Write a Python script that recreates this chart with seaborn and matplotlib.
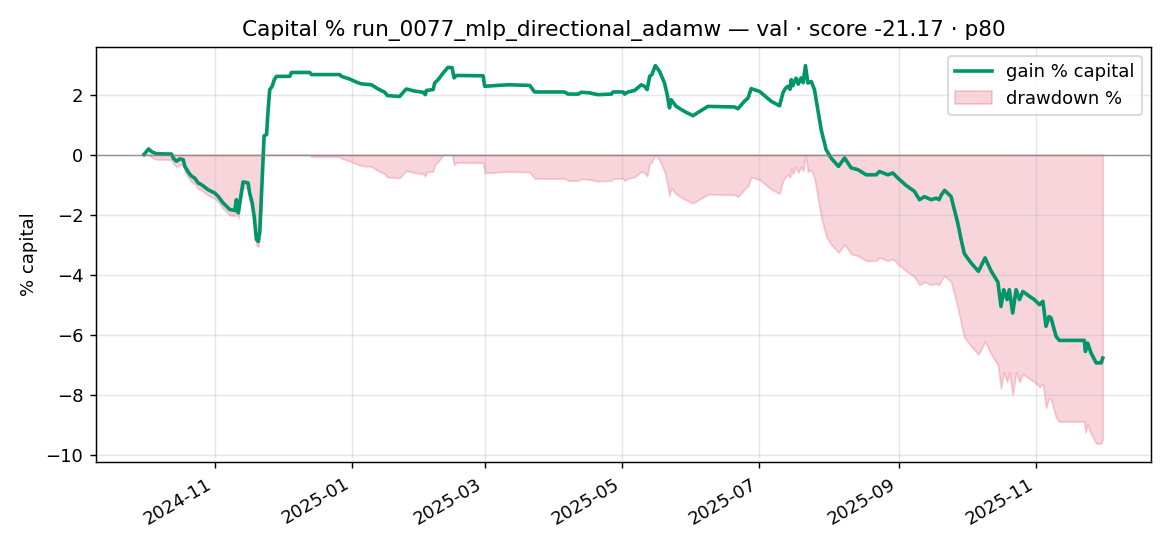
import numpy as np
import pandas as pd
import matplotlib
matplotlib.use("Agg")
import matplotlib.pyplot as plt
import matplotlib.dates as mdates
import seaborn as sns

title = "Capital % run_0077_mlp_directional_adamw — val · score -21.17 · p80"

timestamps = [
    "2024-09-30 12:00", "2024-10-02 14:00", "2024-10-03 22:00", "2024-10-06 02:00", "2024-10-12 19:00",
    "2024-10-13 12:00", "2024-10-15 00:00", "2024-10-16 12:00", "2024-10-18 00:00", "2024-10-18 17:00",
    "2024-10-20 12:00", "2024-10-21 17:00", "2024-10-23 02:00", "2024-10-24 14:00", "2024-10-26 02:00",
    "2024-10-29 02:00", "2024-11-01 00:00", "2024-11-02 12:00", "2024-11-04 17:00", "2024-11-07 17:00",
    "2024-11-09 22:00", "2024-11-10 14:00", "2024-11-11 10:00", "2024-11-12 02:00", "2024-11-13 14:00",
    "2024-11-15 19:00", "2024-11-16 12:00", "2024-11-17 14:00", "2024-11-18 12:00", "2024-11-19 12:00",
    "2024-11-20 07:00", "2024-11-21 00:00", "2024-11-21 17:00", "2024-11-22 12:00", "2024-11-22 22:00",
    "2024-11-24 00:00", "2024-11-24 17:00", "2024-11-25 10:00", "2024-11-26 12:00", "2024-11-27 10:00",
    "2024-11-28 10:00", "2024-12-04 07:00", "2024-12-05 02:00", "2024-12-13 05:00", "2024-12-13 22:00",
    "2024-12-26 12:00", "2024-12-27 07:00", "2024-12-30 22:00", "2025-01-02 22:00", "2025-01-05 02:00",
    "2025-01-09 14:00", "2025-01-12 14:00", "2025-01-15 12:00", "2025-01-16 17:00", "2025-01-22 02:00",
    "2025-01-25 02:00", "2025-01-28 19:00", "2025-02-01 12:00", "2025-02-02 14:00", "2025-02-03 00:00",
    "2025-02-06 00:00", "2025-02-06 17:00", "2025-02-08 05:00", "2025-02-10 10:00", "2025-02-12 14:00",
    "2025-02-14 10:00", "2025-02-15 07:00", "2025-02-16 07:00", "2025-02-28 05:00", "2025-02-28 22:00",
    "2025-03-11 07:00", "2025-03-20 22:00", "2025-03-23 02:00", "2025-04-05 10:00", "2025-04-06 22:00",
    "2025-04-11 10:00", "2025-04-12 19:00", "2025-04-16 12:00", "2025-04-20 05:00", "2025-04-26 05:00",
    "2025-04-26 22:00", "2025-05-01 10:00", "2025-05-02 02:00", "2025-05-03 14:00", "2025-05-06 12:00",
    "2025-05-09 12:00", "2025-05-10 22:00", "2025-05-12 02:00", "2025-05-13 05:00", "2025-05-14 05:00",
    "2025-05-15 17:00", "2025-05-17 14:00", "2025-05-19 19:00", "2025-05-21 00:00", "2025-05-22 00:00",
    "2025-05-22 19:00", "2025-05-25 00:00", "2025-05-28 17:00", "2025-06-01 10:00", "2025-06-04 10:00",
    "2025-06-08 02:00", "2025-06-19 22:00", "2025-06-21 10:00", "2025-06-24 07:00", "2025-06-25 22:00",
    "2025-06-27 07:00", "2025-07-01 00:00", "2025-07-06 05:00", "2025-07-09 22:00", "2025-07-11 10:00",
    "2025-07-12 10:00", "2025-07-13 14:00", "2025-07-14 14:00", "2025-07-15 02:00", "2025-07-15 19:00",
    "2025-07-16 12:00", "2025-07-17 07:00", "2025-07-18 05:00", "2025-07-19 12:00", "2025-07-20 10:00",
    "2025-07-21 10:00", "2025-07-22 12:00", "2025-07-24 00:00", "2025-07-25 10:00", "2025-07-26 22:00",
    "2025-07-28 10:00", "2025-07-30 14:00", "2025-08-01 19:00", "2025-08-05 02:00", "2025-08-07 19:00",
    "2025-08-10 17:00", "2025-08-13 17:00", "2025-08-17 10:00", "2025-08-21 19:00", "2025-08-23 07:00",
    "2025-08-27 00:00", "2025-08-29 05:00", "2025-08-31 12:00", "2025-09-04 05:00", "2025-09-07 19:00",
    "2025-09-10 02:00", "2025-09-12 07:00", "2025-09-15 07:00", "2025-09-17 12:00", "2025-09-18 19:00",
    "2025-09-19 17:00", "2025-09-21 05:00", "2025-09-24 02:00", "2025-09-25 14:00", "2025-09-27 02:00",
    "2025-09-28 14:00", "2025-09-30 00:00", "2025-10-03 00:00", "2025-10-06 07:00", "2025-10-09 05:00",
    "2025-10-11 22:00", "2025-10-14 22:00", "2025-10-16 07:00", "2025-10-17 12:00", "2025-10-19 00:00",
    "2025-10-20 00:00", "2025-10-21 12:00", "2025-10-23 00:00", "2025-10-24 12:00", "2025-10-26 00:00",
    "2025-10-28 22:00", "2025-10-31 02:00", "2025-11-02 10:00", "2025-11-03 22:00", "2025-11-05 07:00",
    "2025-11-06 14:00", "2025-11-07 12:00", "2025-11-09 19:00", "2025-11-11 05:00", "2025-11-22 07:00",
    "2025-11-22 19:00", "2025-11-23 19:00", "2025-11-25 07:00", "2025-11-27 14:00", "2025-11-29 19:00",
    "2025-11-30 12:00",
]

gain_pct = [
    0.00, 0.19, 0.10, 0.03, 0.02,
    -0.11, -0.22, -0.14, -0.17, -0.39,
    -0.61, -0.72, -0.78, -0.94, -1.00,
    -1.17, -1.28, -1.39, -1.61, -1.83,
    -1.86, -1.50, -1.94, -1.61, -0.91,
    -0.94, -1.28, -1.60, -2.06, -2.83,
    -2.89, -2.56, -1.39, -0.06, 0.63,
    0.67, 1.50, 2.17, 2.28, 2.50,
    2.61, 2.61, 2.74, 2.74, 2.67,
    2.67, 2.61, 2.52, 2.42, 2.36,
    2.33, 2.19, 2.08, 1.97, 1.94,
    2.19, 2.12, 2.08, 2.00, 2.14,
    2.17, 2.39, 2.50, 2.72, 2.91,
    2.90, 2.56, 2.64, 2.63, 2.28,
    2.33, 2.31, 2.09, 2.09, 2.02,
    2.02, 2.08, 2.06, 2.00, 2.02,
    2.09, 2.09, 2.02, 2.09, 2.14,
    2.33, 2.28, 2.17, 2.61, 2.67,
    2.97, 2.78, 2.39, 2.00, 1.56,
    1.83, 1.61, 1.44, 1.30, 1.44,
    1.61, 1.59, 1.53, 1.78, 1.89,
    2.20, 2.11, 1.78, 1.63, 2.06,
    2.20, 2.28, 2.18, 2.50, 2.30,
    2.44, 2.55, 2.35, 2.56, 2.40,
    2.97, 2.39, 2.44, 2.17, 1.50,
    0.83, 0.17, -0.11, -0.39, -0.11,
    -0.44, -0.50, -0.67, -0.67, -0.56,
    -0.67, -0.61, -0.78, -1.03, -1.22,
    -1.50, -1.40, -1.50, -1.45, -1.50,
    -1.35, -1.19, -1.39, -1.83, -2.28,
    -2.83, -3.30, -3.61, -3.89, -3.44,
    -3.88, -4.25, -5.06, -4.50, -4.83,
    -4.50, -5.28, -4.50, -4.83, -4.56,
    -4.72, -4.83, -5.00, -4.89, -5.72,
    -5.40, -5.44, -6.06, -6.19, -6.19,
    -6.56, -6.28, -6.61, -6.94, -6.94,
    -6.78,
]

df = pd.DataFrame({"time": pd.to_datetime(timestamps), "gain": gain_pct})
# drawdown relative to the running capital peak
cap = 1 + df["gain"] / 100
df["drawdown"] = (cap / cap.cummax() - 1) * 100

fig, ax = plt.subplots(figsize=(9, 4.2), dpi=130)

ax.fill_between(df["time"], df["drawdown"], 0, color="crimson", alpha=0.18, label="drawdown %")
sns.lineplot(data=df, x="time", y="gain", ax=ax, color="#00966a", linewidth=2, label="gain % capital")
ax.axhline(0, color="gray", linewidth=0.8, alpha=0.8)

ax.set_title(title, fontsize=12)
ax.set_xlabel("")
ax.set_ylabel("% capital")
ax.grid(True, alpha=0.3)
ax.xaxis.set_major_locator(mdates.MonthLocator(bymonth=[1, 3, 5, 7, 9, 11]))
ax.xaxis.set_major_formatter(mdates.DateFormatter("%Y-%m"))

handles, labels = ax.get_legend_handles_labels()
order = [labels.index("gain % capital"), labels.index("drawdown %")]
ax.legend([handles[i] for i in order], [labels[i] for i in order], loc="upper right")

fig.autofmt_xdate()
fig.subplots_adjust(left=0.082, right=0.9835, top=0.9145, bottom=0.1533)
fig.savefig("out.png", dpi=130)
